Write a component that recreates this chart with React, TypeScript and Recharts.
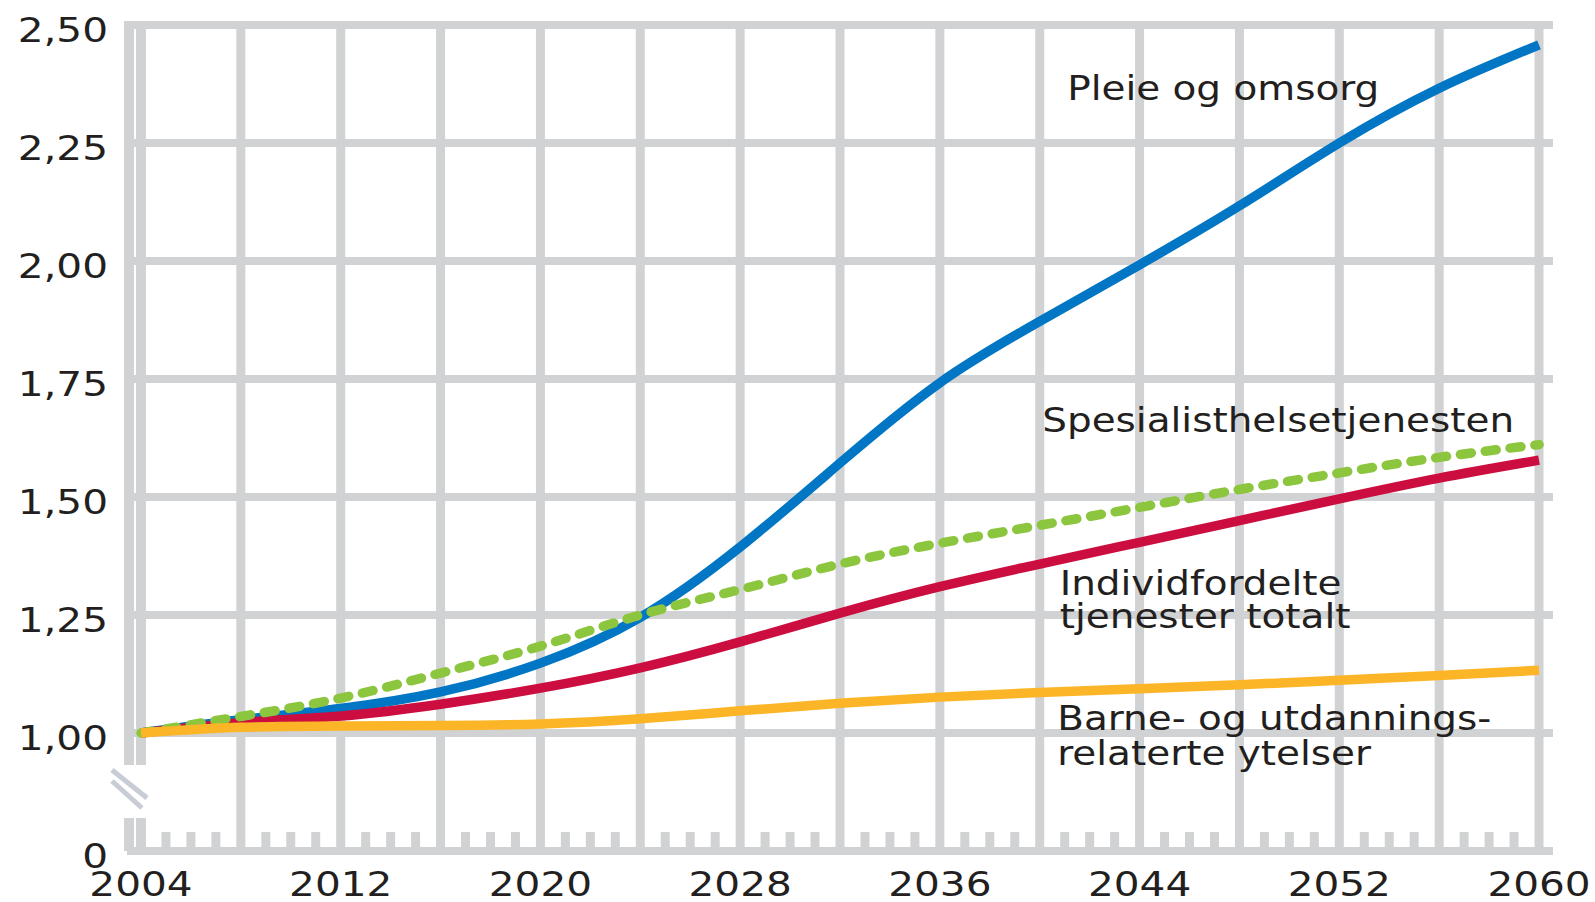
import { CartesianGrid, Line, LineChart, ReferenceDot, ReferenceLine, XAxis, YAxis } from "recharts"

// Indeks, 2004 = 1
const years = [2004, 2008, 2012, 2016, 2020, 2024, 2028, 2032, 2036, 2040, 2044, 2048, 2052, 2056, 2060]
const pleieOgOmsorg = [1.0, 1.028, 1.052, 1.087, 1.148, 1.245, 1.394, 1.572, 1.742, 1.872, 1.992, 2.117, 2.25, 2.366, 2.458]
const spesialisthelsetjenesten = [1.0, 1.035, 1.074, 1.127, 1.184, 1.25, 1.304, 1.358, 1.402, 1.44, 1.478, 1.516, 1.551, 1.584, 1.611]
const individfordelte = [1.0, 1.022, 1.036, 1.061, 1.095, 1.138, 1.193, 1.254, 1.31, 1.358, 1.404, 1.45, 1.496, 1.54, 1.578]
const barneOgUtdanning = [1.0, 1.012, 1.015, 1.016, 1.019, 1.03, 1.047, 1.063, 1.076, 1.086, 1.094, 1.102, 1.112, 1.122, 1.133]

const xTicks = [2004, 2012, 2020, 2028, 2036, 2044, 2052, 2060]
const gridYears = [2004, 2008, 2012, 2016, 2020, 2024, 2028, 2032, 2036, 2040, 2044, 2048, 2052, 2056, 2060]
const minorYears = Array.from({ length: 56 }, (_, i) => 2004 + i).filter((y) => !gridYears.includes(y))
const yTicks = [1, 1.25, 1.5, 1.75, 2, 2.25, 2.5]
// the y axis is broken: its bottom stands for 0
const Y_FLOOR = 0.75
const yFloorLabel = "0"

const seriesLabels = [
  { key: "pleie", lines: ["Pleie og omsorg"], year: 2041.1, value: 2.341 },
  { key: "spes", lines: ["Spesialisthelsetjenesten"], year: 2040.1, value: 1.638 },
  { key: "indiv", lines: ["Individfordelte", "tjenester totalt"], year: 2040.8, value: 1.292 },
  { key: "barne", lines: ["Barne- og utdannings-", "relaterte ytelser"], year: 2040.7, value: 1.006 },
]

const data = years.map((year, i) => ({
  year,
  pleie: pleieOgOmsorg[i],
  spes: spesialisthelsetjenesten[i],
  indiv: individfordelte[i],
  barne: barneOgUtdanning[i],
}))

const GRID = "#d1d2d4"
const TEXT = "#231f20"
const FONT = "DejaVu Sans"

const fmt = (v: number) => (v === Y_FLOOR ? yFloorLabel : v.toFixed(2).replace(".", ","))

const YTick = ({ x, y, payload }: any) => (
  <g transform={`translate(${x - 19},${y + 17}) scale(1.23,1)`}>
    <text textAnchor="end" fontFamily={FONT} fontSize={33} fill={TEXT}>
      {fmt(payload.value)}
    </text>
  </g>
)

const XTick = ({ x, y, payload }: any) => (
  <g transform={`translate(${x},${y + 45}) scale(1.23,1)`}>
    <text textAnchor="middle" fontFamily={FONT} fontSize={33} fill={TEXT}>
      {payload.value}
    </text>
  </g>
)

// first grid line + plot edge, both with the axis break
const BrokenGridLine = (p: any) => {
  const x = p.x1
  const top = Math.min(p.y1, p.y2)
  const bottom = Math.max(p.y1, p.y2)
  const gapTop = bottom - 86
  const gapBottom = bottom - 33
  return (
    <g>
      {[x - 12, x].map((lx) => (
        <g key={lx} stroke={GRID} strokeWidth={10}>
          <line x1={lx} x2={lx} y1={top - 4} y2={gapTop} />
          <line x1={lx} x2={lx} y1={gapBottom} y2={bottom} />
        </g>
      ))}
      <line x1={x - 29} y1={gapTop + 5} x2={x + 6} y2={gapTop + 33} stroke="#c7ccd5" strokeWidth={5} />
      <line x1={x - 29} y1={gapTop + 16} x2={x + 1} y2={gapTop + 43} stroke="#c7ccd5" strokeWidth={5} />
    </g>
  )
}

const MinorTick = (p: any) => {
  const bottom = Math.max(p.y1, p.y2)
  return <line x1={p.x1} x2={p.x1} y1={bottom - 19} y2={bottom} stroke={GRID} strokeWidth={9} />
}

const makeLabel = (lines: string[], gap: number) => (p: any) => (
  <g transform={`translate(${p.cx},${p.cy}) scale(1.18,1)`}>
    <text fontFamily={FONT} fontSize={33} fill={TEXT}>
      {lines.map((t, i) => (
        <tspan key={i} x={0} y={i * gap}>
          {t}
        </tspan>
      ))}
    </text>
  </g>
)

export default function App() {
  return (
    <div style={{ position: "absolute", left: 0, top: 0, width: 1595, height: 902, background: "#fff" }}>
      <LineChart width={1595} height={902} data={data} margin={{ top: 25, right: 42, bottom: 0, left: 7 }}>
        <CartesianGrid vertical={false} stroke={GRID} strokeWidth={8} />
        <XAxis
          dataKey="year"
          type="number"
          domain={[2003.44, 2060.56]}
          ticks={xTicks}
          height={51}
          tickLine={false}
          tickSize={0}
          tickMargin={0}
          axisLine={{ stroke: GRID, strokeWidth: 8 }}
          tick={<XTick />}
        />
        <YAxis
          type="number"
          domain={[Y_FLOOR, 2.5]}
          ticks={[Y_FLOOR, ...yTicks]}
          width={120}
          tickLine={false}
          tickSize={0}
          tickMargin={0}
          axisLine={false}
          tick={<YTick />}
        />
        {gridYears.map((yr) => (
          <ReferenceLine
            key={`g${yr}`}
            x={yr}
            stroke={GRID}
            strokeWidth={9}
            shape={yr === gridYears[0] ? BrokenGridLine : undefined}
          />
        ))}
        {minorYears.map((yr) => (
          <ReferenceLine key={`m${yr}`} x={yr} stroke={GRID} shape={MinorTick} />
        ))}
        <Line dataKey="pleie" type="natural" stroke="#0076c4" strokeWidth={9.5} dot={false} isAnimationActive={false} />
        <Line dataKey="indiv" type="natural" stroke="#cc0d3f" strokeWidth={9.5} dot={false} isAnimationActive={false} />
        <Line
          dataKey="spes"
          type="natural"
          stroke="#8cc63f"
          strokeWidth={9.5}
          strokeDasharray="11 14"
          strokeLinecap="round"
          dot={false}
          isAnimationActive={false}
        />
        <Line dataKey="barne" type="natural" stroke="#fbb527" strokeWidth={9.5} dot={false} isAnimationActive={false} />
        {seriesLabels.map((l) => (
          <ReferenceDot
            key={l.key}
            x={l.year}
            y={l.value}
            r={0}
            shape={makeLabel(l.lines, l.key === "barne" ? 35 : 33)}
          />
        ))}
      </LineChart>
    </div>
  )
}
